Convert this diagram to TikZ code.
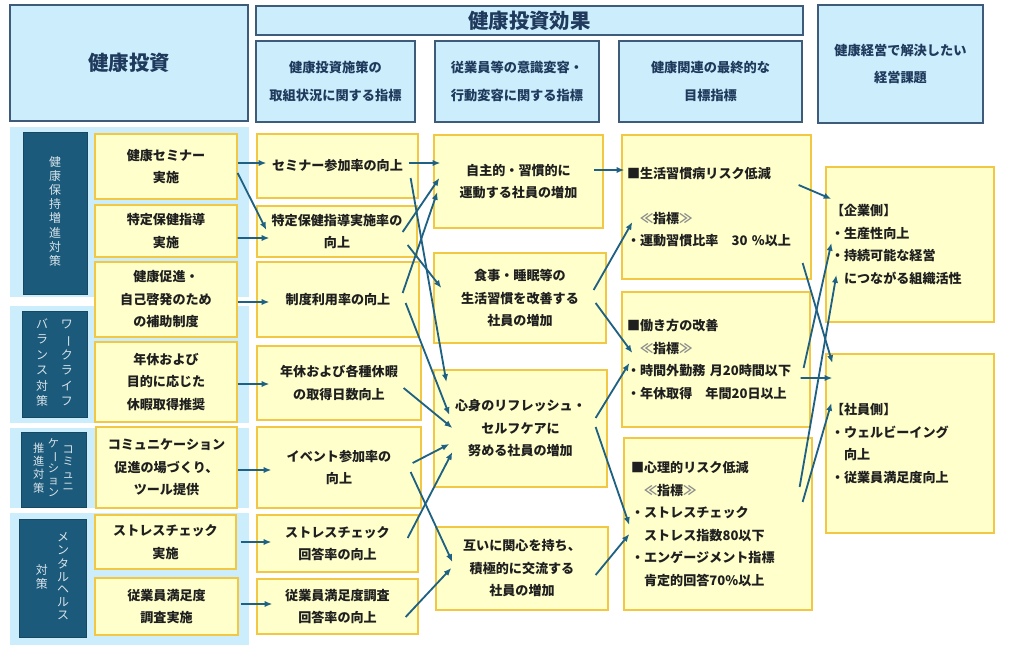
\documentclass[tikz,border=0pt]{standalone}
\usepackage{fontspec}
\setmainfont{Noto Sans CJK JP}
\usetikzlibrary{arrows.meta,calc}
\newcommand{\px}{0.025cm}
\newcommand{\vbar}{\rotatebox[origin=c]{-90}{ー}}
\newcommand{\vcol}[1]{\begin{tabular}{@{}c@{}}#1\end{tabular}}
\newcommand{\idx}{　{\color{black!45}≪}指標{\color{black!45}≫}}
\definecolor{hdfill}{HTML}{CCEEFC}
\definecolor{hdline}{HTML}{3E5C7A}
\definecolor{hdtext}{HTML}{1F3A5C}
\definecolor{lbfill}{HTML}{1B5A7A}
\definecolor{lbtext}{HTML}{D8E3EA}
\definecolor{ylfill}{HTML}{FFFFCC}
\definecolor{ylline}{HTML}{F2C744}
\definecolor{arcol}{HTML}{1F6183}

\begin{document}
\begin{tikzpicture}[
  x=\px, y=-\px,
  sz/.style 2 args={minimum width=#1*\px, minimum height=#2*\px},
  head/.style={draw=hdline, line width=1pt, fill=hdfill, text=hdtext, align=center, inner sep=0pt,
    font=\bfseries\fontsize{9.4}{19.5}\selectfont},
  big/.style={font=\bfseries\fontsize{14.5}{18}\selectfont},
  band/.style={fill=hdfill, inner sep=0pt},
  lab/.style={draw=lbfill!80!black, fill=lbfill, text=lbtext, inner sep=0pt},
  cell/.style={draw=ylline, line width=0.9pt, fill=ylfill, align=center, inner sep=0pt,
    text=black!88, font=\bfseries\fontsize{9.3}{16}\selectfont},
  note/.style 2 args={cell, align=left, inner xsep=#1*\px, text width=#2*\px},
  arr/.style={-{Latex[length=5.5pt,width=4.5pt]}, line width=1.3pt, draw=arcol}
]
\useasboundingbox (0,0) rectangle (1034,659);

\node[head, big, sz={238}{116}] (invest) at (129,63) {健康投資};
\node[head, big, sz={547}{29}] (effect) at (529.5,20.5) {健康投資効果};
\node[head, sz={159}{81}] (hd1) at (335.5,81.5) {健康投資施策の\\取組状況に関する指標};
\node[head, sz={164}{81}] (hd2) at (517,81.5) {従業員等の意識変容・\\行動変容に関する指標};
\node[head, sz={183}{81}] (hd3) at (710.5,81.5) {健康関連の最終的な\\目標指標};
\node[head, sz={165}{118}] (issue) at (900.5,64) {健康経営で解決したい\\経営課題};

\node[band, sz={239}{170}] (g1) at (129.5,212) {};
\node[band, sz={239}{117}] (g2) at (129.5,364.5) {};
\node[band, sz={239}{80}] (g3) at (129.5,468) {};
\node[band, sz={239}{132}] (g4) at (129.5,579) {};

\node[lab, sz={64}{162}, font=\fontsize{8.5}{9.5}\selectfont] (l1) at (55,213)
  {\vcol{健\\康\\保\\持\\増\\進\\対\\策}};
\node[lab, sz={65}{106}, font=\fontsize{8.5}{11}\selectfont] (l2) at (54.5,364)
  {\vcol{バ\\ラ\\ン\\ス\\対\\策}\hspace{9pt}\vcol{ワ\\\vbar\\ク\\ラ\\イ\\フ}};
\node[lab, sz={65}{75}, font=\fontsize{8}{8.8}\selectfont] (l3) at (53.5,469.5)
  {\vcol{推\\進\\対\\策}\hspace{2.5pt}\vcol{ケ\\\vbar\\シ\\ョ\\ン}\hspace{2.5pt}\vcol{コ\\ミ\\ュ\\ニ}};
\node[lab, sz={67}{118}, font=\fontsize{8.5}{9.1}\selectfont] (l4) at (52.5,578)
  {\vcol{対\\策}\hspace{6.5pt}\vcol{メ\\ン\\タ\\ル\\ヘ\\ル\\ス}};

\node[cell, sz={142}{65}] (m1) at (166,166.5) {健康セミナー\\実施};
\node[cell, sz={142}{52}] (m2) at (166,231) {特定保健指導\\実施};
\node[cell, sz={142}{75}] (m3) at (166,299.5) {健康促進・\\自己啓発のため\\の補助制度};
\node[cell, sz={142}{80}] (m4) at (166,382) {年休および\\目的に応じた\\休暇取得推奨};
\node[cell, sz={141}{81}] (m5) at (166.5,467.5) {コミュニケーション\\促進の場づくり、\\ツール提供};
\node[cell, sz={141}{54}] (m6) at (165.5,542) {ストレスチェック\\実施};
\node[cell, sz={143}{57}] (m7) at (166.5,606.5) {従業員満足度\\調査実施};

\node[cell, sz={161}{64}] (k1) at (337.5,166) {セミナー参加率の向上};
\node[cell, sz={160}{51}] (k2) at (337,231.5) {特定保健指導実施率の\\向上};
\node[cell, sz={162}{75}] (k3) at (338,299.5) {制度利用率の向上};
\node[cell, sz={164}{74}] (k4) at (339,383) {年休および各種休暇\\の取得日数向上};
\node[cell, sz={164}{81}] (k5) at (339,467.5) {イベント参加率の\\向上};
\node[cell, sz={161}{57}] (k6) at (337.5,543.5) {ストレスチェック\\回答率の向上};
\node[cell, sz={161}{55}] (k7) at (337.5,606.5) {従業員満足度調査\\回答率の向上};

\node[cell, sz={169}{93}] (a1) at (518.5,181.5) {自主的・習慣的に\\運動する社員の増加};
\node[cell, sz={172}{90}] (a2) at (520,298) {食事・睡眠等の\\生活習慣を改善する\\社員の増加};
\node[cell, sz={173}{117}] (a3) at (520.5,428.5) {心身のリフレッシュ・\\セルフケアに\\努める社員の増加};
\node[cell, sz={172}{83}] (a4) at (522,568.5) {互いに関心を持ち、\\積極的に交流する\\社員の増加};

\node[note={5}{179}, minimum height=144*\px] (t1) at (716.5,207)
  {■生活習慣病リスク低減\\[16pt]\idx\\・運動習慣比率　30 \%以上};
\node[note={5}{178}, minimum height=135*\px] (t2) at (716,359.5)
  {■働き方の改善\\\idx\\・時間外勤務 月20時間以下\\・年休取得　年間20日以上};
\node[note={7}{174}, minimum height=172*\px] (t3) at (718,524)
  {■心理的リスク低減\\\idx\\・ストレスチェック\\　ストレス指数80以下\\・エンゲージメント指標\\　肯定的回答70\%以上};

\node[note={5}{158}, minimum height=155*\px] (c1) at (910,244.5)
  {【企業側】\\・生産性向上\\・持続可能な経営\\　につながる組織活性};
\node[note={5}{158}, minimum height=179*\px] (c2) at (910,443.5)
  {【社員側】\\・ウェルビーイング\\　向上\\・従業員満足度向上};

\draw[arr] ($(m1.east)+(0,-3.5)$) -- ($(k1.west)+(10,-3)$);
\draw[arr] ($(m1.east)+(0,6.5)$) -- ($(k2.west)+(10,-1.5)$);
\draw[arr] ($(m2.east)+(0,7)$) -- ($(k2.west)+(13,6.5)$);
\draw[arr] ($(m3.east)+(0,2.5)$) -- ($(k3.west)+(13,2.5)$);
\draw[arr] ($(m4.east)+(0,2)$) -- ($(k4.west)+(13,1)$);
\draw[arr] ($(m5.east)+(0,2.5)$) -- ($(k5.west)+(15,2.5)$);
\draw[arr] ($(m6.east)+(4,0)$) -- ($(k6.west)+(15,-1.5)$);
\draw[arr] ($(m7.east)+(2,-2.5)$) -- ($(k7.west)+(16,-2.5)$);

\draw[arr] ($(k1.east)+(-10,-3)$) -- ($(a1.west)+(7,-18.5)$);
\draw[arr] ($(k1.east)+(-8,12)$) -- ($(a3.west)+(13,-46.5)$);
\draw[arr] ($(k2.east)+(-15,0.5)$) -- ($(a1.west)+(6,-3.5)$);
\draw[arr] ($(k2.east)+(-10,13.5)$) -- ($(a2.west)+(8,-10)$);
\draw[arr] ($(k3.east)+(-17,-6.5)$) -- ($(a1.west)+(4,10.5)$);
\draw[arr] ($(k3.east)+(-14,3.5)$) -- ($(a3.west)+(16,-13.5)$);
\draw[arr] ($(k4.east)+(-18,5)$) -- ($(a3.west)+(19,-0.5)$);
\draw[arr] ($(k5.east)+(-9,-4.5)$) -- ($(a3.west)+(16,15.5)$);
\draw[arr] ($(k5.east)+(-11,4.5)$) -- ($(a4.west)+(17,-6.5)$);
\draw[arr] ($(k6.east)+(-11,-5.5)$) -- ($(a3.west)+(19,23.5)$);
\draw[arr] ($(k7.east)+(-13,10.5)$) -- ($(a4.west)+(16,-0.5)$);

\draw[arr] ($(a1.east)+(-10,-11.5)$) -- ($(t1.west)+(3,-37)$);
\draw[arr] ($(a2.east)+(-13,-8)$) -- ($(t1.west)+(11,15)$);
\draw[arr] ($(a2.east)+(-11,5)$) -- ($(t2.west)+(11,-6.5)$);
\draw[arr] ($(a3.east)+(-12,-10.5)$) -- ($(t2.west)+(8,3.5)$);
\draw[arr] ($(a3.east)+(-12,-1.5)$) -- ($(t3.west)+(6,1)$);
\draw[arr] ($(a4.east)+(-13,6.5)$) -- ($(t3.west)+(6,10)$);

\draw[arr] ($(t1.east)+(-13,-22)$) -- ($(c1.west)+(6,-45.5)$);
\draw[arr] ($(t1.east)+(-9,56)$) -- ($(c2.west)+(7,-80.5)$);
\draw[arr] ($(t2.east)+(-7,8.5)$) -- ($(c1.west)+(6,-1.5)$);
\draw[arr] ($(t2.east)+(-10,18.5)$) -- ($(c2.west)+(7,-65.5)$);
\draw[arr] ($(t3.east)+(-13,-37)$) -- ($(c1.west)+(11,30.5)$);
\draw[arr] ($(t3.east)+(-10,-22)$) -- ($(c2.west)+(6,-40.5)$);
\end{tikzpicture}
\end{document}
